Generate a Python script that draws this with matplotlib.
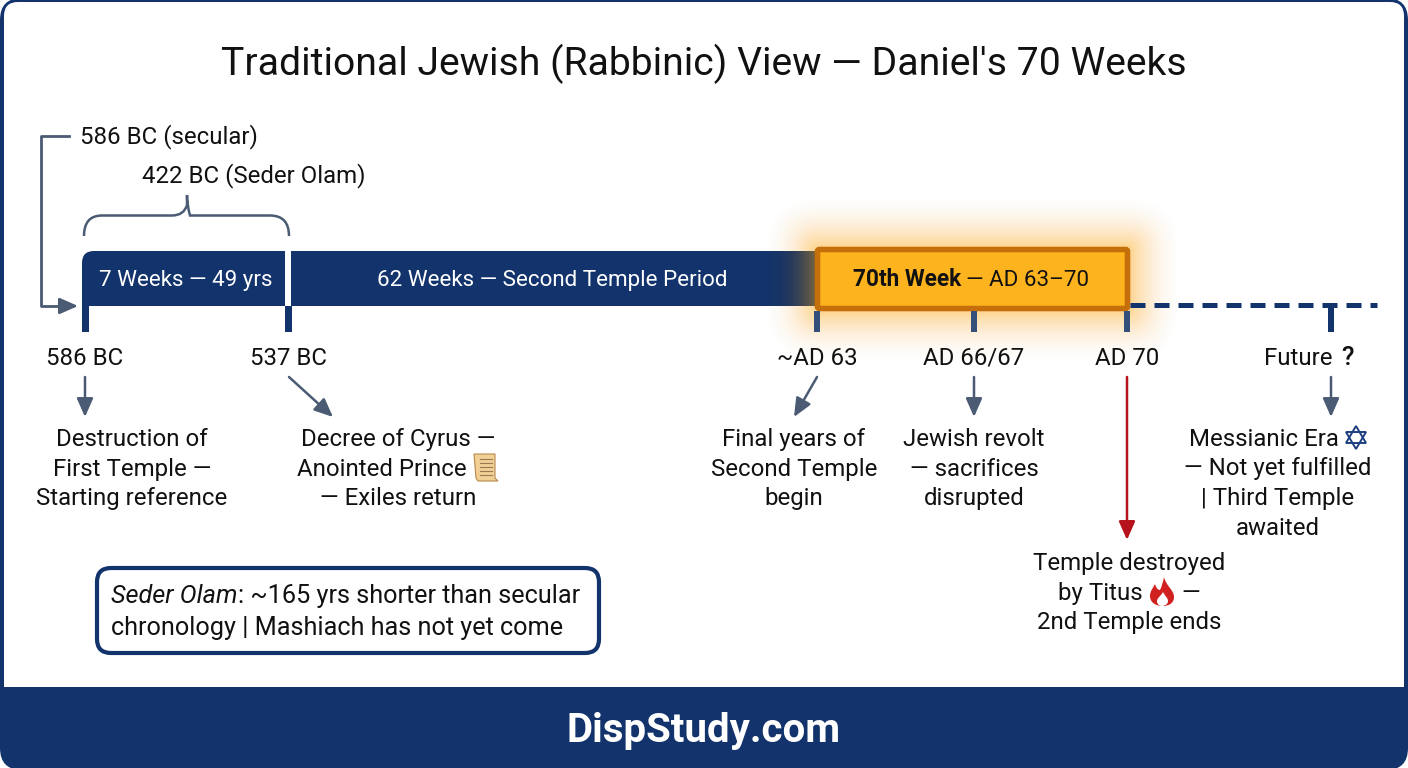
import matplotlib
matplotlib.use("Agg")
import matplotlib.pyplot as plt
from matplotlib.patches import FancyBboxPatch, Rectangle, PathPatch, Polygon
from matplotlib.path import Path

# texts
title = "Traditional Jewish (Rabbinic) View \u2014 Daniel's 70 Weeks"
date_labels = ["586 BC", "537 BC", "~AD 63", "AD 66/67", "AD 70"]
descriptions = [
    ["Destruction of", "First Temple \u2014", "Starting reference"],
    ["Decree of Cyrus \u2014", "", "\u2014 Exiles return"],
    ["Final years of", "Second Temple", "begin"],
    ["Jewish revolt", "\u2014 sacrifices", "disrupted"],
]
future_text = ["", "\u2014 Not yet fulfilled", "| Third Temple", "awaited"]
titus_text = ["Temple destroyed", "", "2nd Temple ends"]

NAVY = "#12336b"
SLATE = "#4a5b73"
TICK = "#34507a"
RED = "#b5121b"
INK = "#111111"
GOLD = "#fdb31e"

plt.rcParams["font.family"] = ["Roboto", "DejaVu Sans"]

fig = plt.figure(figsize=(14.08, 7.68), dpi=100)
ax = fig.add_axes([0, 0, 1, 1])
ax.set_xlim(0, 1408)
ax.set_ylim(768, 0)
ax.axis("off")


def label(x, y, s, size=17.3, ha="center", color=INK, **kw):
    # y is the middle of the capitals, so lines with a slash or a bracket don't jump
    base = y - 1 + 0.355 * size * 100 / 72
    return ax.text(x, base, s, fontsize=size, ha=ha, va="baseline", color=color, **kw)


def right_edge(t):
    fig.canvas.draw()
    return ax.transData.inverted().transform(t.get_window_extent().get_points())[1][0]


def arrow(x0, y0, x1, y1, color=SLATE, lw=1.8):
    ax.annotate("", xy=(x1, y1), xytext=(x0, y0),
                arrowprops=dict(arrowstyle="-|>,head_length=0.75,head_width=0.33", color=color,
                                lw=lw, shrinkA=0, shrinkB=0, mutation_scale=15))


def stacked(x, ys, lines):
    for y, s in zip(ys, lines):
        if s:
            label(x, y, s)


# frame and footer
ax.add_patch(FancyBboxPatch((14, 12), 1380, 744, boxstyle="round,pad=14,rounding_size=22",
                            fc=NAVY, ec="none"))
ax.add_patch(FancyBboxPatch((18, 16), 1372, 680, boxstyle="round,pad=14,rounding_size=14",
                            fc="white", ec="none"))
ax.add_patch(Rectangle((0, 687), 1408, 40, fc=NAVY, ec="none"))
label(704, 62, title, size=28.2)
label(704, 729, "DispStudy.com", size=29, color="white", fontweight="bold")

# bars
ax.add_patch(FancyBboxPatch((82, 251), 300, 55, boxstyle="round,pad=0,rounding_size=12",
                            fc=NAVY, ec="none"))
ax.add_patch(Rectangle((95, 251), 725, 55, fc=NAVY, ec="none"))
ax.add_patch(Rectangle((82, 265), 20, 41, fc=NAVY, ec="none"))
ax.add_patch(Rectangle((285, 251), 6, 55, fc="white", ec="none"))
for x in [85.5, 288]:
    ax.add_patch(Rectangle((x - 3.5, 306), 7, 26, fc=NAVY, ec="none"))
label(186, 279, "7 Weeks \u2014 49 yrs", size=16.1, color="white")
label(552, 279, "62 Weeks \u2014 Second Temple Period", size=16.1, color="white")

# dashed future line
ax.plot([1130, 1377], [304.5, 304.5], color=NAVY, lw=3.6, dashes=(3, 1.8), solid_capstyle="butt")
ax.add_patch(Rectangle((1328, 303), 6, 29, fc=NAVY, ec="none"))

# glow round the 70th week
for pad in range(48, 0, -2):
    a = 0.006 + 0.055 * (1 - pad / 48) ** 2
    ax.add_patch(FancyBboxPatch((815, 247), 315, 64, boxstyle=f"round,pad={pad},rounding_size={pad + 4}",
                                fc=GOLD, ec="none", alpha=a))
ax.add_patch(FancyBboxPatch((817.5, 249.5), 310, 59, boxstyle="round,pad=0,rounding_size=2",
                            fc=GOLD, ec="#c46f0a", lw=4))
bold = label(853, 279, "70th Week", size=16.3, ha="left", fontweight="bold")
label(right_edge(bold) + 5, 279, "\u2014 AD 63\u201370", size=16.1, ha="left")
for x in [817, 974, 1127]:
    ax.add_patch(Rectangle((x - 3, 311), 6, 21, fc=TICK, ec="none", zorder=1.5))

# top notes and bracket
label(80, 136, "586 BC (secular)", ha="left")
label(142, 175, "422 BC (Seder Olam)", ha="left")
ax.plot([69, 41, 41, 66], [136, 136, 306, 306], color=SLATE, lw=2)
arrow(60, 306, 78, 306)
brace = Path([(84, 236), (84, 215.5), (102, 215.5), (172, 215.5), (184, 215.5), (187, 205), (187, 195),
              (187, 205), (190, 215.5), (202, 215.5), (270, 215.5), (289, 215.5), (289, 236)],
             [Path.MOVETO, Path.CURVE3, Path.CURVE3, Path.LINETO, Path.CURVE3, Path.CURVE3, Path.LINETO,
              Path.CURVE3, Path.CURVE3, Path.LINETO, Path.LINETO, Path.CURVE3, Path.CURVE3])
ax.add_patch(PathPatch(brace, fc="none", ec=SLATE, lw=1.8))

# date labels
for x, s in zip([85, 288, 817, 974, 1127], date_labels):
    label(x, 357, s)
label(1298, 357, "Future")
label(1347, 357, "?", size=18.5, fontweight="medium")

# pointers
arrow(85, 377, 85, 417)
arrow(289, 377, 333, 417)
arrow(817, 377, 794, 417)
arrow(974, 377, 974, 417)
arrow(1331, 377, 1331, 417)
arrow(1127, 377, 1127, 540, color=RED)

# descriptions
for x, d in zip([132, 398, 794, 974], descriptions):
    stacked(x, [438, 468, 497], d)
label(381.5, 468, "Anointed Prince")
stacked(1278, [438, 467, 497, 527], future_text)
label(1263.5, 438, "Messianic Era")
stacked(1129, [562, 592, 621], titus_text)
label(1100.5, 592, "by Titus")
label(1191, 592, "\u2014")

# scroll glyph
ax.add_patch(Polygon([(474, 454), (495, 454), (495, 478), (498, 481), (478, 481), (476, 478)],
                     fc="#f1cf95", ec="#b9894d", lw=0.8))
for y in [459, 463, 467, 471, 475]:
    ax.plot([480, 492], [y, y], color="#9a7a50", lw=0.8)

# flame glyph
C4 = Path.CURVE4
flame = Path([(1164, 577), (1166, 586), (1174, 590), (1174, 597), (1174, 603), (1169, 606), (1163, 606),
              (1155, 606), (1150, 602), (1150, 596), (1150, 591), (1153, 588), (1155, 584),
              (1156, 588), (1158, 590), (1160, 590), (1162, 586), (1163, 582), (1164, 577)],
             [Path.MOVETO] + [C4] * 18)
ax.add_patch(PathPatch(flame, fc="#d0201f", ec="none"))
inner = Path([(1163, 592), (1165, 596), (1168, 598), (1168, 601), (1168, 604), (1165, 606), (1162, 606),
              (1159, 606), (1157, 604), (1157, 601), (1157, 598), (1161, 596), (1163, 592)],
             [Path.MOVETO] + [C4] * 12)
ax.add_patch(PathPatch(inner, fc="white", ec="none"))

# star of david glyph
ax.add_patch(Polygon([(1356, 426), (1366, 443), (1346, 443)], fc="none", ec="#1f3f80", lw=1.4))
ax.add_patch(Polygon([(1356, 449), (1366, 432), (1346, 432)], fc="none", ec="#1f3f80", lw=1.4))

# note box
ax.add_patch(FancyBboxPatch((97, 568), 502, 85, boxstyle="round,pad=0,rounding_size=14",
                            fc="white", ec=NAVY, lw=3))
ital = label(111, 595, "Seder Olam", size=18.2, ha="left", style="italic")
label(right_edge(ital), 595, ": ~165 yrs shorter than secular", size=18.2, ha="left")
label(111, 627, "chronology | Mashiach has not yet come", size=18.2, ha="left")

fig.savefig("out.png", dpi=100, facecolor="white")
